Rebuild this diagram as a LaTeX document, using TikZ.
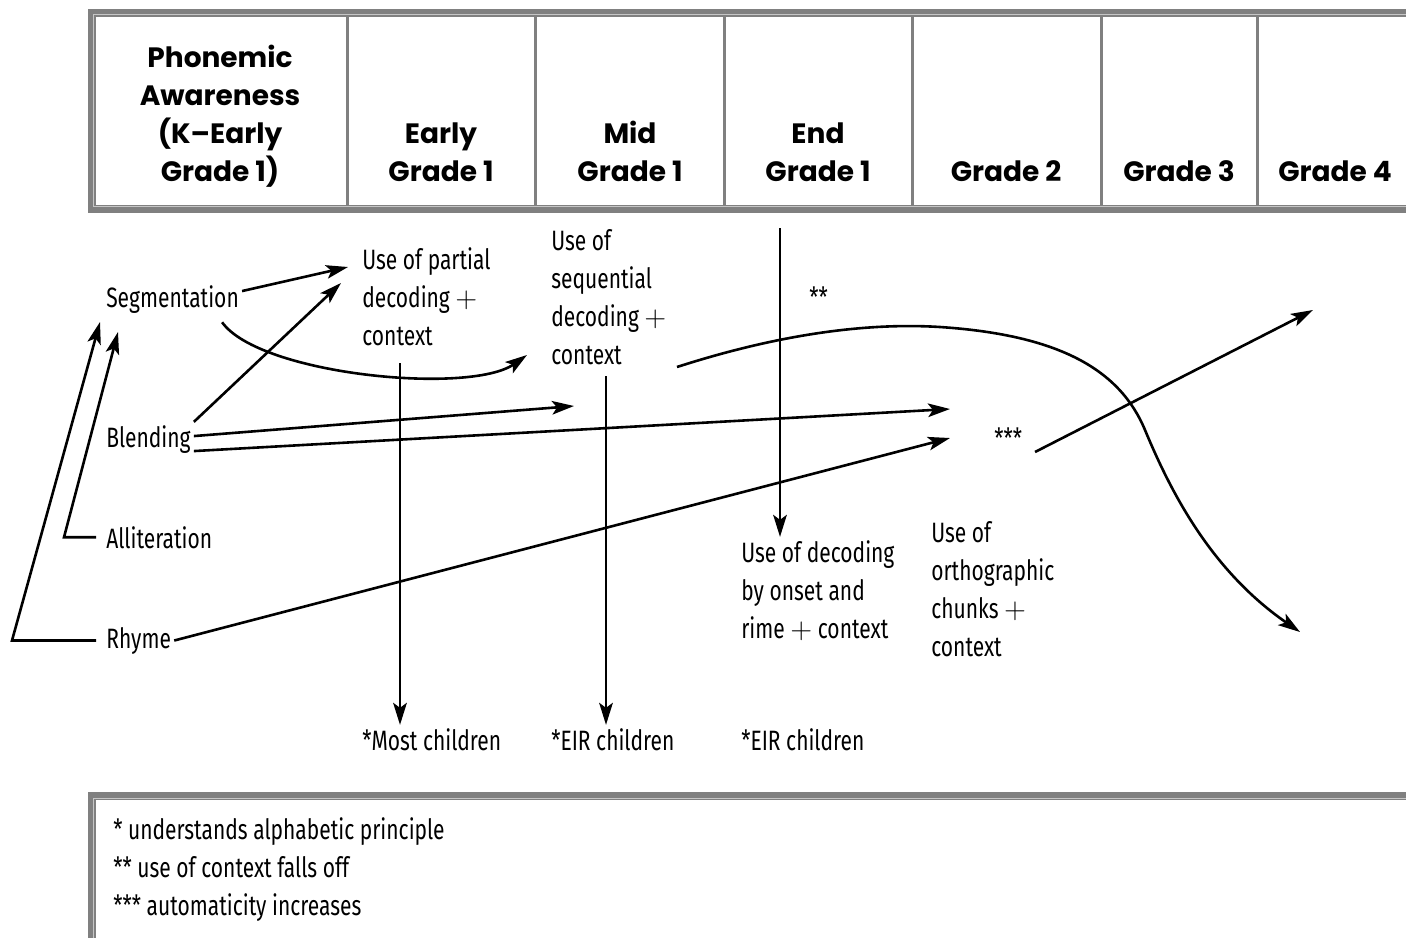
\documentclass[tikz,border=0pt]{standalone}
\usepackage{fontspec}
\setmainfont{Fira Sans}[FakeStretch=0.75]
\newfontfamily\headfont{Poppins}
\usetikzlibrary{arrows.meta}

\begin{document}
\begin{tikzpicture}[x=0.5pt, y=-0.5pt, line width=1.3pt,
  >={Stealth[length=11pt,width=6.8pt,inset=2.5pt]},
  frame/.style={draw=gray, line width=4pt},
  thinline/.style={draw=gray!45, line width=0.5pt},
  divider/.style={draw=gray, line width=1.5pt},
  grade/.style={font=\headfont\bfseries\fontsize{14}{19}\selectfont, align=center, anchor=base},
  lbl/.style={font=\fontsize{14}{19}\selectfont, align=left, anchor=base west, inner sep=1pt}]
\useasboundingbox (0,0) rectangle (1406,938);

% grade header (base = last line)
\draw[frame] (1406,12.5) -| (91.5,208.5) -- (1406,208.5);
\draw[thinline] (1406,14.5) -| (93.5,206.5) -- (1406,206.5);
\foreach \gx in {347,535,724,912,1101,1257}
  \draw[divider] (\gx,16) -- (\gx,205);
\node[grade] (pa) at (220,181) {Phonemic\\Awareness\\(K–Early\\Grade 1)};
\node[grade] (early) at (441,181) {Early\\Grade 1};
\node[grade] (mid) at (630,181) {Mid\\Grade 1};
\node[grade] (endg) at (818,181) {End\\Grade 1};
\node[grade] (gtwo) at (1006,181) {Grade 2};
\node[grade] (gthree) at (1179,181) {Grade 3};
\node[grade] (gfour) at (1335,181) {Grade 4};

% phonemic skills and stages
\node[lbl] (seg) at (103,307) {Segmentation};
\node[lbl] (blend) at (103,447) {Blending};
\node[lbl] (allit) at (103,548) {Alliteration};
\node[lbl] (rhyme) at (103,648) {Rhyme};
\node[lbl] (partial) at (359,345) {Use of partial\\decoding $+$\\context};
\node[lbl] (seq) at (548,364) {Use of\\sequential\\decoding $+$\\context};
\node[lbl] (onset) at (738,638) {Use of decoding\\by onset and\\rime $+$ context};
\node[lbl] (ortho) at (928,656) {Use of\\orthographic\\chunks $+$\\context};
\node[lbl] (falls) at (806,307) {**};
\node[lbl] (auto) at (991,448) {***};
\node[lbl] (most) at (359,750) {*Most children};
\node[lbl] (eirmid) at (548,750) {*EIR children};
\node[lbl] (eirend) at (738,750) {*EIR children};

% arrow ends
\coordinate (partA) at (348,267);
\coordinate (partB) at (341,283);
\coordinate (seqA) at (527,355);
\coordinate (seqB) at (574,406);
\coordinate (autoA) at (950,409);
\coordinate (autoB) at (950,438);
\coordinate (segA) at (118,332);
\coordinate (segB) at (100,322);

\draw[->] ([yshift=4pt]seg.east) -- (partA);
\draw[->] (blend.north east) -- (partB);
\draw[->] ([xshift=-10pt,yshift=-3pt]seg.south east) .. controls (260,375) and (470,395) .. (seqA);
\draw[->] ([yshift=1.5pt]blend.east) -- (seqB);
\draw[->] ([yshift=-6pt]blend.east) -- (autoA);
\draw[->] (rhyme.east) -- (autoB);
\draw[->] ([xshift=-3.5pt]allit.west) -- ++(-32,0) -- (segA);
\draw[->] ([xshift=-3.5pt]rhyme.west) -- ++(-84,0) -- (segB);

% decoding stages down to the children
\coordinate (dropA) at (400,363);
\coordinate (dropB) at (606,376);
\coordinate (dropC) at (780,228);
\draw[->] (dropA) -- (dropA |- most.north);
\draw[->] (dropB) -- (dropB |- eirmid.north);
\draw[->] (dropC) -- (dropC |- onset.north);

% context falls off, automaticity increases
\coordinate (fallA) at (677,367);
\coordinate (fallB) at (1300,632);
\coordinate (riseA) at (1035,452);
\coordinate (riseB) at (1313,310);
\draw[->] (fallA) .. controls (770,337) and (860,322) .. (940,327)
  .. controls (1060,335) and (1120,370) .. (1145,430)
  .. controls (1170,490) and (1210,570) .. (fallB);
\draw[->] (riseA) -- (riseB);

% key
\draw[frame] (1406,796) -| (91.5,938);
\draw[thinline] (1406,798) -| (93.5,938);
\node[lbl] (key) at (110,915) {* understands alphabetic principle\\** use of context falls off\\*** automaticity increases};
\end{tikzpicture}
\end{document}
